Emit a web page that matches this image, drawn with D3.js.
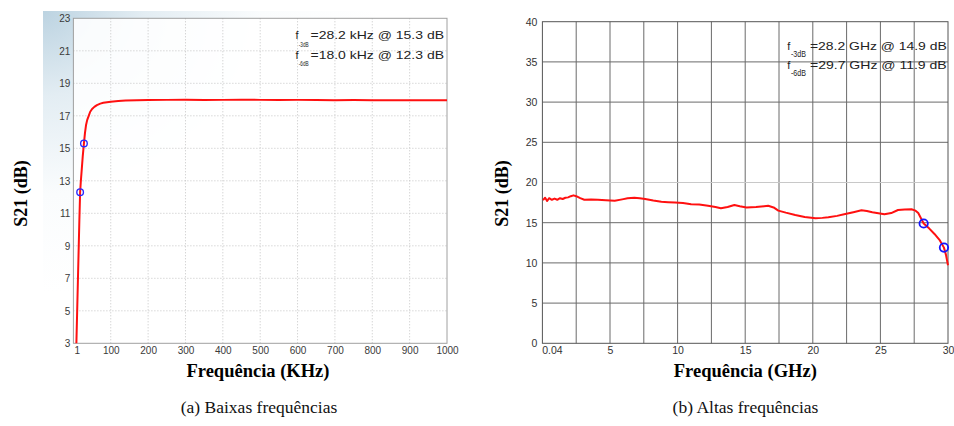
<!DOCTYPE html>
<html>
<head>
<meta charset="utf-8">
<script src="https://cdn.jsdelivr.net/npm/d3@7"></script>
<style>
  body { margin: 0; background: #fff; }
  svg { display: block; }
</style>
</head>
<body>
<svg id="fig" width="954" height="426"></svg>
<script>
// ---- (a) low-frequency response ----
const lowFreqKHz = [8, 10, 12, 14, 16, 18, 20, 22, 25, 28.2, 31, 34, 37, 41, 45, 50, 56, 63, 72, 80, 90, 100, 120, 140, 170, 200, 250, 300, 350, 400, 450, 500, 550, 600, 650, 700, 750, 800, 850, 900, 950, 1000];
const lowGainDb  = [3.0, 4.9, 6.8, 8.7, 10.6, 12.3, 13.0, 13.6, 14.5, 15.3, 15.95, 16.45, 16.75, 17.0, 17.25, 17.42, 17.55, 17.66, 17.75, 17.8, 17.84, 17.87, 17.91, 17.94, 17.96, 17.97, 17.98, 17.99, 17.97, 17.98, 17.99, 17.98, 17.97, 17.98, 17.97, 17.96, 17.97, 17.96, 17.95, 17.96, 17.95, 17.95];
const lowXTicks = [1, 100, 200, 300, 400, 500, 600, 700, 800, 900, 1000];
const lowYTicks = [3, 5, 7, 9, 11, 13, 15, 17, 19, 21, 23];
const lowMarkFreq = [28.2, 18.0];
const lowMarkGain = [15.3, 12.3];
const lowMarkSub  = ["-3dB", "-6dB"];
const lowMarkText = ["=28.2 kHz @ 15.3 dB", "=18.0 kHz @ 12.3 dB"];

// ---- (b) high-frequency response ----
const highFreqGHz = [0.04, 0.2, 0.35, 0.5, 0.7, 0.9, 1.1, 1.3, 1.5, 1.7, 1.9, 2.1, 2.3, 2.5, 2.8, 3.1, 3.6, 4.1, 4.7, 5.35, 5.9, 6.3, 6.8, 7.2, 7.6, 8.2, 8.8, 9.3, 9.8, 10.4, 11.0, 11.6, 12.25, 12.8, 13.2, 13.7, 14.2, 14.6, 15.1, 15.8, 16.7, 17.1, 17.45, 18.0, 18.7, 19.4, 20.2, 20.7, 21.15, 21.8, 22.4, 23.0, 23.6, 24.0, 24.4, 25.3, 25.8, 26.3, 26.8, 27.3, 27.6, 27.8, 28.2, 28.6, 29.0, 29.4, 29.7, 29.85, 30];
const highGainDb  = [17.8, 18.1, 17.7, 18.05, 17.85, 18.0, 17.85, 18.05, 17.95, 18.1, 18.15, 18.3, 18.4, 18.3, 18.05, 17.85, 17.9, 17.86, 17.8, 17.74, 17.9, 18.03, 18.1, 18.05, 17.95, 17.75, 17.6, 17.55, 17.5, 17.45, 17.3, 17.25, 17.1, 16.95, 16.8, 16.95, 17.2, 17.05, 16.9, 16.95, 17.1, 16.9, 16.5, 16.25, 15.96, 15.7, 15.55, 15.6, 15.67, 15.85, 16.08, 16.3, 16.54, 16.45, 16.3, 16.04, 16.2, 16.58, 16.65, 16.67, 16.5, 16.2, 14.9, 14.3, 13.6, 12.8, 11.9, 11.0, 9.7];
const highXTicks = [0.04, 5, 10, 15, 20, 25, 30];
const highXGrid  = [2.5, 5, 7.5, 10, 12.5, 15, 17.5, 20, 22.5, 25, 27.5];
const highYTicks = [0, 5, 10, 15, 20, 25, 30, 35, 40];
const highMarkFreq = [28.2, 29.7];
const highMarkGain = [14.9, 11.9];
const highMarkSub  = ["-3dB", "-6dB"];
const highMarkText = ["=28.2 GHz @ 14.9 dB", "=29.7 GHz @ 11.9 dB"];

const svg = d3.select("#fig");
const tickFont = "Liberation Sans, Arial, sans-serif";
const titleFont = "Liberation Serif, 'Times New Roman', serif";

// soft bluish backdrop behind panel (a)
const defs = svg.append("defs");
const grad = defs.append("radialGradient").attr("id", "bgA")
  .attr("cx", 0).attr("cy", 0).attr("r", 0.8).attr("fx", 0).attr("fy", 0);
grad.append("stop").attr("offset", 0).attr("stop-color", "#bcd3e1");
grad.append("stop").attr("offset", 0.3).attr("stop-color", "#e3edf3");
grad.append("stop").attr("offset", 0.65).attr("stop-color", "#fafcfd");
grad.append("stop").attr("offset", 1).attr("stop-color", "#ffffff");
svg.append("rect").attr("x", 43).attr("y", 11).attr("width", 420).attr("height", 352)
  .attr("fill", "url(#bgA)");

// ================= panel (a) =================
const xA = d3.scaleLinear().domain([0, 1000]).range([73.4, 447]);
const yA = d3.scaleLinear().domain([3, 23]).range([343.3, 18.3]);
const gA = svg.append("g");

gA.append("rect").attr("x", xA(0)).attr("y", yA(23))
  .attr("width", xA(1000) - xA(0)).attr("height", yA(3) - yA(23))
  .attr("fill", "#ffffff").attr("fill-opacity", 0.88);

// dotted grid
gA.append("g").selectAll("line").data(lowXTicks.filter(d => d > 1 && d < 1000)).join("line")
  .attr("x1", d => xA(d)).attr("x2", d => xA(d))
  .attr("y1", yA(3)).attr("y2", yA(23))
  .attr("stroke", "#c4c4c4").attr("stroke-width", 1).attr("stroke-dasharray", "1,2");
gA.append("g").selectAll("line").data(lowYTicks.filter(d => d > 3 && d < 23)).join("line")
  .attr("x1", xA(0)).attr("x2", xA(1000))
  .attr("y1", d => yA(d)).attr("y2", d => yA(d))
  .attr("stroke", "#c4c4c4").attr("stroke-width", 1).attr("stroke-dasharray", "1,2");

// frame
gA.append("rect").attr("x", xA(0)).attr("y", yA(23))
  .attr("width", xA(1000) - xA(0)).attr("height", yA(3) - yA(23))
  .attr("fill", "none").attr("stroke", "#a0a0a0").attr("stroke-width", 1);

// axes
const axAx = d3.axisBottom(xA).tickValues(lowXTicks).tickFormat(d => String(d)).tickSize(0).tickPadding(8);
const axAy = d3.axisLeft(yA).tickValues(lowYTicks).tickSize(0).tickPadding(3);
const gAx = gA.append("g").attr("transform", `translate(0,${yA(3)})`).call(axAx);
const gAy = gA.append("g").attr("transform", `translate(${xA(0)},0)`).call(axAy);
[gAx, gAy].forEach(g => {
  g.select(".domain").remove();
  g.selectAll("text").attr("font-family", tickFont).attr("font-size", 10).attr("fill", "#3a3a3a");
});
gAx.selectAll("text").attr("dy", "0.3em").filter(d => d === 1).attr("dx", 3);

// response curve
const lineA = d3.line().x((d, i) => xA(lowFreqKHz[i])).y(d => yA(d));
gA.append("path").datum(lowGainDb).attr("d", lineA)
  .attr("fill", "none").attr("stroke", "#ff1010").attr("stroke-width", 2).attr("stroke-linejoin", "round");

// markers
gA.append("g").selectAll("circle").data(lowMarkFreq).join("circle")
  .attr("cx", d => xA(d)).attr("cy", (d, i) => yA(lowMarkGain[i])).attr("r", 3.3)
  .attr("fill", "none").attr("stroke", "#2a2aff").attr("stroke-width", 1.4);

// annotations
const annA = gA.append("g").attr("font-family", tickFont).attr("fill", "#222");
const annABase = [39.3, 59];
annA.selectAll("text.f").data(lowMarkText).join("text").attr("class", "f")
  .attr("x", 295.5).attr("y", (d, i) => annABase[i]).attr("font-size", 11).text("f");
annA.selectAll("text.s").data(lowMarkSub).join("text").attr("class", "s")
  .attr("x", 298.8).attr("y", (d, i) => annABase[i] + 7.2).attr("font-size", 8)
  .attr("textLength", 9.8).attr("lengthAdjust", "spacingAndGlyphs").text(d => d);
annA.selectAll("text.m").data(lowMarkText).join("text").attr("class", "m")
  .attr("x", 310.5).attr("y", (d, i) => annABase[i]).attr("font-size", 10.5)
  .attr("textLength", 133.5).attr("lengthAdjust", "spacingAndGlyphs").text(d => d);

// titles
gA.append("text").attr("transform", "translate(21,193.5) rotate(-90)")
  .attr("text-anchor", "middle").attr("dominant-baseline", "central")
  .attr("font-family", titleFont).attr("font-weight", "bold").attr("font-size", 18)
  .text("S21 (dB)");
gA.append("text").attr("x", 258).attr("y", 377).attr("text-anchor", "middle")
  .attr("font-family", titleFont).attr("font-weight", "bold").attr("font-size", 18.5)
  .text("Frequência (KHz)");
svg.append("text").attr("x", 259).attr("y", 413).attr("text-anchor", "middle")
  .attr("font-family", titleFont).attr("font-size", 17.5).attr("fill", "#111")
  .text("(a) Baixas frequências");

// ================= panel (b) =================
const xB = d3.scaleLinear().domain([0, 30]).range([542.4, 948]);
const yB = d3.scaleLinear().domain([0, 40]).range([343.3, 21.7]);
const gB = svg.append("g");

gB.append("g").selectAll("line").data(highXGrid).join("line")
  .attr("x1", d => xB(d)).attr("x2", d => xB(d))
  .attr("y1", yB(0)).attr("y2", yB(40))
  .attr("stroke", "#6a6a6a").attr("stroke-width", 1);
gB.append("g").selectAll("line").data(highYTicks.filter(d => d > 0 && d < 40)).join("line")
  .attr("x1", xB(0)).attr("x2", xB(30))
  .attr("y1", d => yB(d)).attr("y2", d => yB(d))
  .attr("stroke", d => d === 20 ? "#c8c8c8" : "#6a6a6a").attr("stroke-width", 1);

gB.append("rect").attr("x", xB(0)).attr("y", yB(40))
  .attr("width", xB(30) - xB(0)).attr("height", yB(0) - yB(40))
  .attr("fill", "none").attr("stroke", "#555").attr("stroke-width", 1);

const axBx = d3.axisBottom(xB).tickValues(highXTicks).tickFormat(d => String(d)).tickSize(0).tickPadding(8);
const axBy = d3.axisLeft(yB).tickValues(highYTicks).tickSize(0).tickPadding(5);
const gBx = gB.append("g").attr("transform", `translate(0,${yB(0)})`).call(axBx);
const gBy = gB.append("g").attr("transform", `translate(${xB(0)},0)`).call(axBy);
[gBx, gBy].forEach(g => {
  g.select(".domain").remove();
  g.selectAll("text").attr("font-family", tickFont).attr("font-size", 10.5).attr("fill", "#333");
});
gBx.selectAll("text").attr("dy", "0.3em").filter(d => d === 0.04).attr("dx", 9);

const lineB = d3.line().x((d, i) => xB(highFreqGHz[i])).y(d => yB(d));
gB.append("path").datum(highGainDb).attr("d", lineB)
  .attr("fill", "none").attr("stroke", "#ff1010").attr("stroke-width", 2).attr("stroke-linejoin", "round");

gB.append("g").selectAll("circle").data(highMarkFreq).join("circle")
  .attr("cx", d => xB(d)).attr("cy", (d, i) => yB(highMarkGain[i])).attr("r", 4.2)
  .attr("fill", "none").attr("stroke", "#1515ff").attr("stroke-width", 1.8);

const annB = gB.append("g").attr("font-family", tickFont).attr("fill", "#222");
const annBBase = [50, 69];
annB.selectAll("text.f").data(highMarkText).join("text").attr("class", "f")
  .attr("x", 787.3).attr("y", (d, i) => annBBase[i]).attr("font-size", 11).text("f");
annB.selectAll("text.s").data(highMarkSub).join("text").attr("class", "s")
  .attr("x", 791).attr("y", (d, i) => annBBase[i] + 6.7).attr("font-size", 8.5)
  .attr("textLength", 15).attr("lengthAdjust", "spacingAndGlyphs").text(d => d);
annB.selectAll("text.m").data(highMarkText).join("text").attr("class", "m")
  .attr("x", 810).attr("y", (d, i) => annBBase[i]).attr("font-size", 10.5)
  .attr("textLength", 136.7).attr("lengthAdjust", "spacingAndGlyphs").text(d => d);

gB.append("text").attr("transform", "translate(502,193.5) rotate(-90)")
  .attr("text-anchor", "middle").attr("dominant-baseline", "central")
  .attr("font-family", titleFont).attr("font-weight", "bold").attr("font-size", 18)
  .text("S21 (dB)");
gB.append("text").attr("x", 745.3).attr("y", 377).attr("text-anchor", "middle")
  .attr("font-family", titleFont).attr("font-weight", "bold").attr("font-size", 18.5)
  .text("Frequência (GHz)");
svg.append("text").attr("x", 745.5).attr("y", 413).attr("text-anchor", "middle")
  .attr("font-family", titleFont).attr("font-size", 17.5).attr("fill", "#111")
  .text("(b) Altas frequências");
</script>
</body>
</html>
